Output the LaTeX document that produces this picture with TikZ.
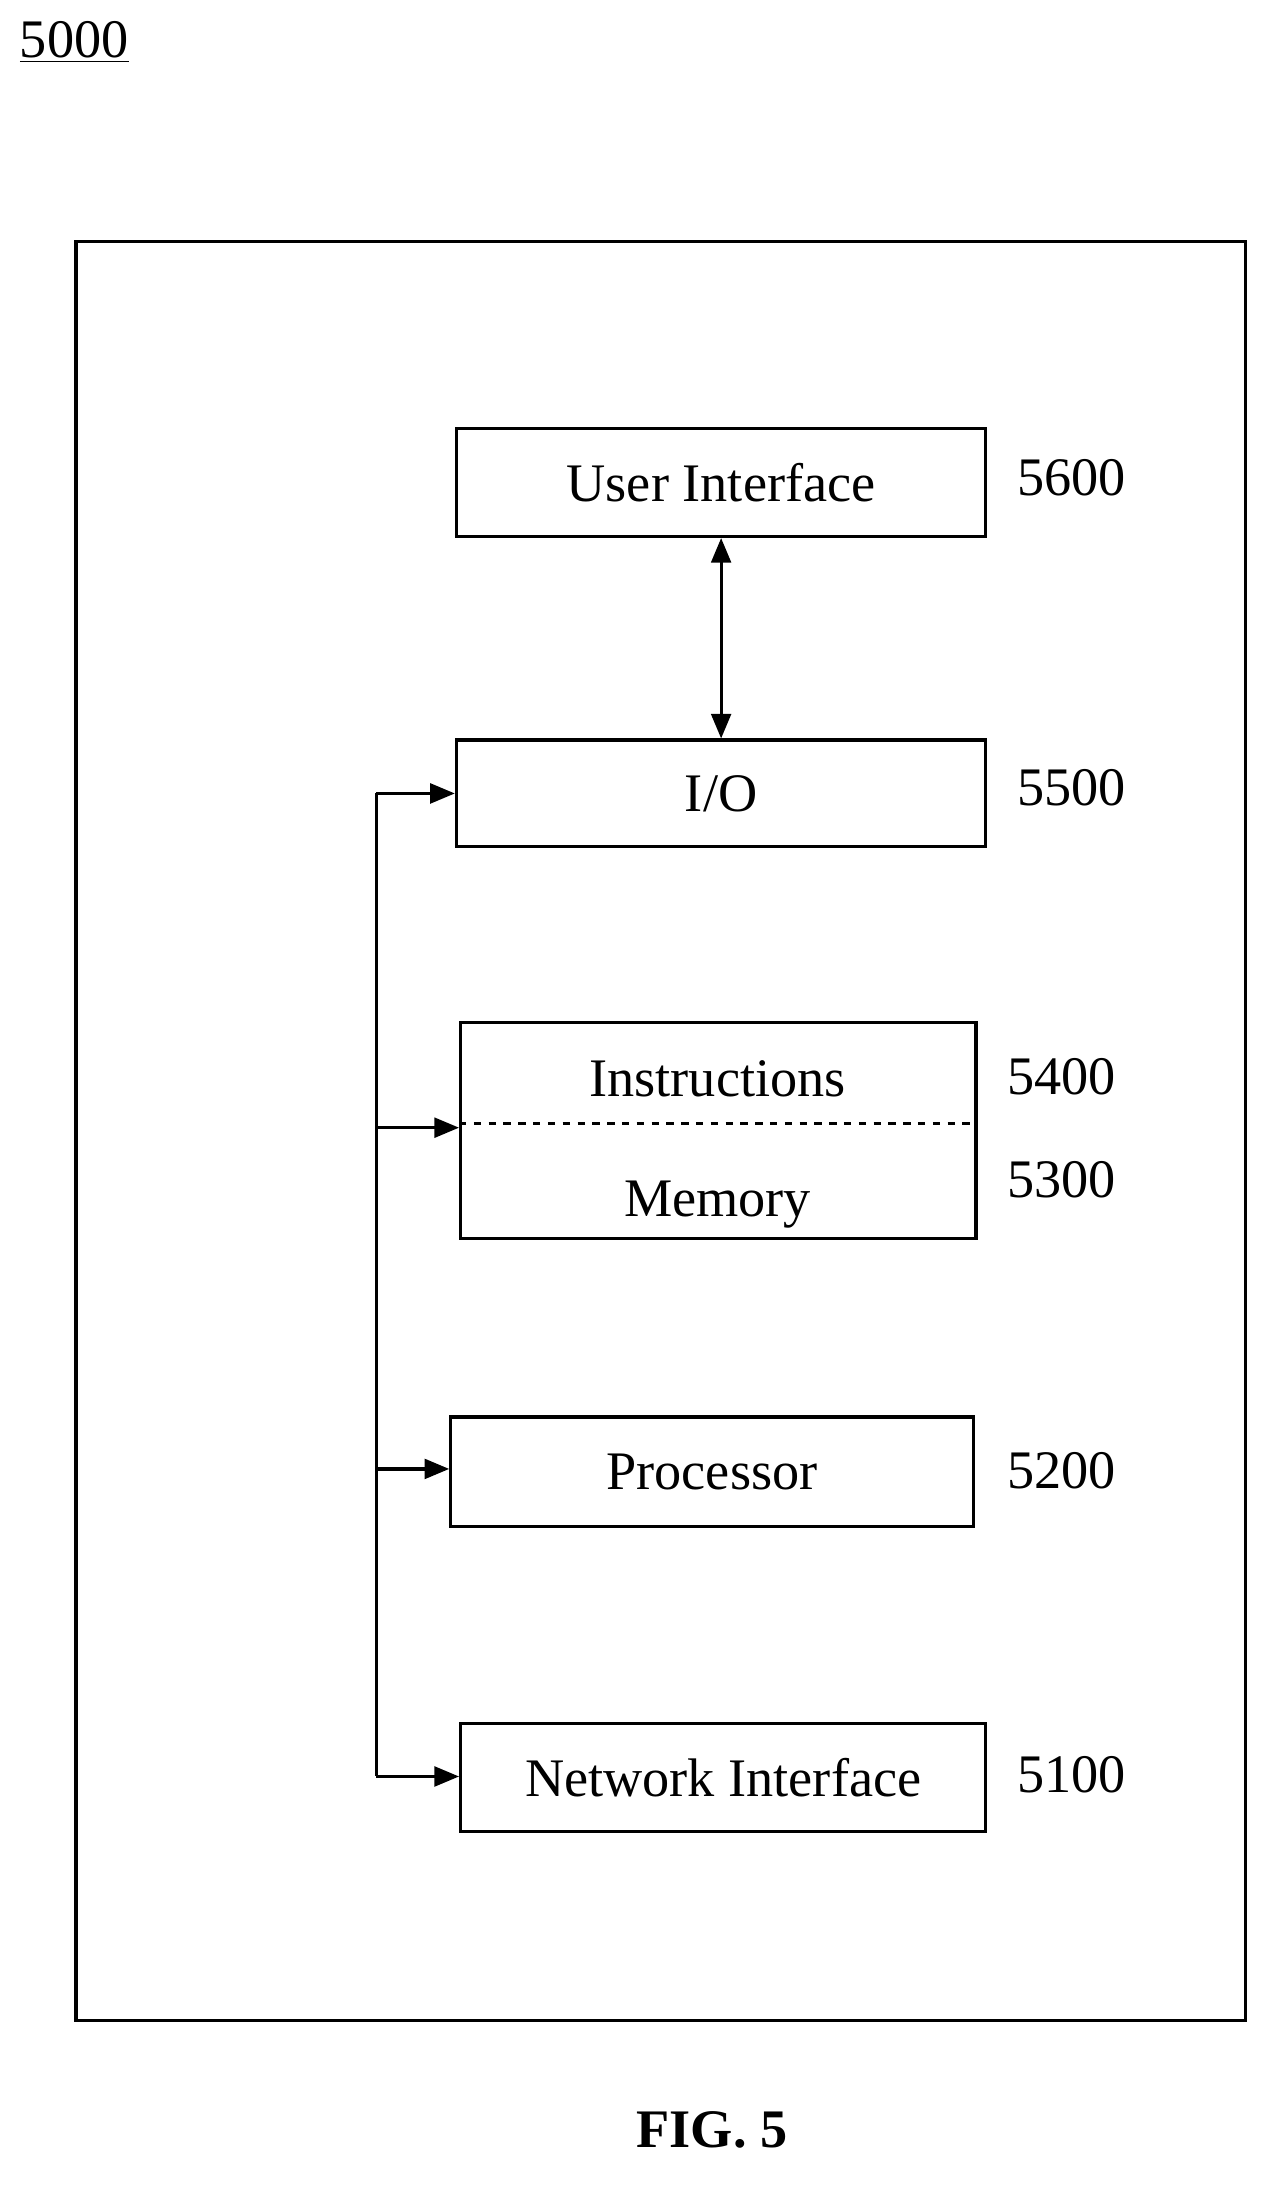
\documentclass[tikz,border=0pt]{standalone}
\usepackage{fontspec}
\setmainfont{Liberation Serif}
\usetikzlibrary{arrows.meta,positioning,calc}

\begin{document}
\begin{tikzpicture}[
    x=0.02cm, y=-0.02cm,
    box/.style={rectangle, draw, line width=1.3pt, inner sep=0pt, font=\fontsize{22}{26}\selectfont},
    ref/.style={anchor=west, font=\fontsize{22}{26}\selectfont},
    arrow/.style={-{Triangle[length=10pt,width=8pt]}, line width=1.3pt}
]
    \useasboundingbox (0,0) rectangle (906,1573);
    % Title and outer frame
    \node[anchor=west, font=\fontsize{22}{26}\selectfont] (title) at (8,30) {\underline{5000}};
    \node[draw, line width=1.3pt, minimum width=16.66cm, minimum height=25.34cm, inner sep=0pt] (frame) at (470.5,805.5) {};

    % Blocks
    \node[box, minimum width=7.54cm, minimum height=1.54cm] (ui) at (513.5,343.5) {User Interface};
    \node[box, minimum width=7.54cm, minimum height=1.52cm] (io) at (513.5,565) {I/O};
    \node[box, minimum width=7.34cm, minimum height=3.08cm] (mem) at (511.5,805) {};
    \node[box, minimum width=7.44cm, minimum height=1.56cm] (proc) at (507,1048) {Processor};
    \node[box, minimum width=7.48cm, minimum height=1.54cm] (net) at (515,1265.5) {Network Interface};
    \node[font=\fontsize{22}{26}\selectfont] (instr) at (511,768) {Instructions};
    \node[font=\fontsize{22}{26}\selectfont] (memtxt) at (511,858) {Memory};
    \draw[dashed, line width=1.2pt] (mem.west |- 0,800) coordinate (dl) -- (mem.east |- 0,800) coordinate (dr);

    % Reference numerals
    \node[ref] (n5600) at (718,340) {5600};
    \node[ref] (n5500) at (718,561) {5500};
    \node[ref] (n5400) at (711,767) {5400};
    \node[ref] (n5300) at (711,840) {5300};
    \node[ref] (n5200) at (711,1047) {5200};
    \node[ref] (n5100) at (718,1264) {5100};

    % Connectors
    \draw[{Triangle[length=10pt,width=8pt]}-{Triangle[length=10pt,width=8pt]}, line width=1.3pt] (ui) -- (io);
    \coordinate (btop) at (268,565);
    \coordinate (bmem) at (268,803);
    \coordinate (bproc) at (268,1046);
    \coordinate (bnet) at (268,1265);
    \draw[line width=1.3pt] (btop) -- (bnet);
    \draw[arrow] (btop) -- (io.west);
    \draw[arrow] (bmem) -- (mem.west |- bmem);
    \draw[arrow] (bproc) -- (proc.west |- bproc);
    \draw[arrow] (bnet) -- (net.west |- bnet);

    % Caption
    \node[font=\fontsize{22}{26}\selectfont\bfseries] (fig) at (507,1517) {FIG. 5};
\end{tikzpicture}
\end{document}
